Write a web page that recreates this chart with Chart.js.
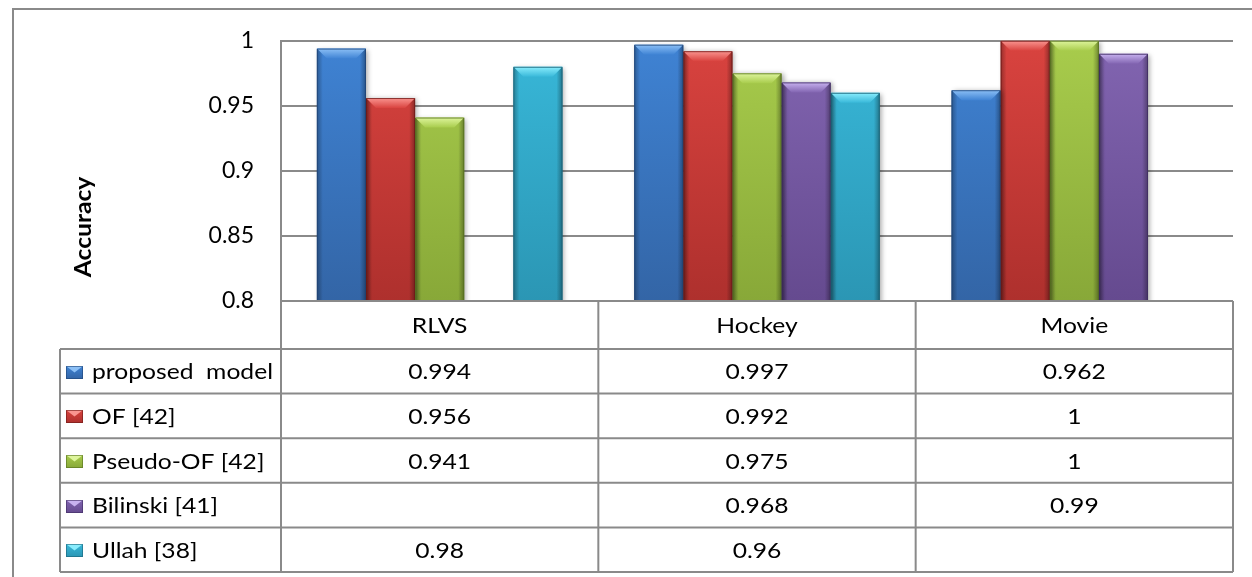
<!DOCTYPE html>
<html>
<head>
<meta charset="utf-8">
<script src="https://cdn.jsdelivr.net/npm/chart.js@4.4.1/dist/chart.umd.min.js"></script>
<style>
  html, body { margin: 0; padding: 0; background: #ffffff; }
  #wrap { width: 1252px; height: 577px; position: relative; }
  canvas { display: block; }
</style>
</head>
<body>
<div id="wrap"><canvas id="chart" width="1252" height="577"></canvas></div>
<script>
// ---- data ----
const categories = ['RLVS', 'Hockey', 'Movie'];
const seriesNames = ['proposed  model', 'OF [42]', 'Pseudo-OF [42]', 'Bilinski [41]', 'Ullah [38]'];
const proposedModel = [0.994, 0.997, 0.962];
const ofValues      = [0.956, 0.992, 1];
const pseudoOf      = [0.941, 0.975, 1];
const bilinski      = [null, 0.968, 0.99];
const ullah         = [0.98, 0.96, null];
const yTickLabels   = ['0.8', '0.85', '0.9', '0.95', '1'];
const yTitle        = 'Accuracy';

const seriesValues = [proposedModel, ofValues, pseudoOf, bilinski, ullah];

// ---- look ----
const FONT = 'Lato, "Open Sans", "Liberation Sans", sans-serif';
const GRID = '#8a8a8a';
const palettes = [
  { top: '#3f83d4', bottom: '#3365a6', bevel: '#8cc0f6', edge: '#1f4476' }, // blue
  { top: '#d9433f', bottom: '#ae302d', bevel: '#fa9590', edge: '#6e1a18' }, // red
  { top: '#a8cc4c', bottom: '#88a838', bevel: '#def59c', edge: '#55701f' }, // green
  { top: '#8265b1', bottom: '#654a8f', bevel: '#c8b2f0', edge: '#3f2d62' }, // purple
  { top: '#38b8d9', bottom: '#2b96b4', bevel: '#8aedfd', edge: '#1a6378' }  // cyan
];

const TABLE = {
  legendLeft: 60,
  headerH: 48,
  rowH: 44.6,
  keyX: 66, keyW: 17, keyH: 13,
  textX: 92,
  fontSize: 22,
  stretch: 1.12
};

function bodyGradient(ctx, area, p) {
  const g = ctx.createLinearGradient(0, area.top, 0, area.bottom);
  g.addColorStop(0, p.top);
  g.addColorStop(1, p.bottom);
  return g;
}

const datasets = seriesNames.map((name, i) => ({
  label: name,
  data: seriesValues[i],
  backgroundColor: (c) => {
    const area = c.chart.chartArea;
    if (!area) return palettes[i].top;
    return bodyGradient(c.chart.ctx, area, palettes[i]);
  },
  borderWidth: 0,
  categoryPercentage: 0.774,
  barPercentage: 1
}));

// soft drop shadow under the bars
const barShadow = {
  id: 'barShadow',
  beforeDatasetsDraw(chart) {
    const ctx = chart.ctx;
    ctx.save();
    ctx.shadowColor = 'rgba(0,0,0,0.35)';
    ctx.shadowBlur = 5;
    ctx.shadowOffsetX = 2;
    ctx.shadowOffsetY = 1;
  },
  afterDatasetsDraw(chart) {
    chart.ctx.restore();
  }
};

// chamfered top edge and shaded sides on every column
const barBevel = {
  id: 'barBevel',
  afterDatasetsDraw(chart) {
    const ctx = chart.ctx;
    const area = chart.chartArea;
    chart.data.datasets.forEach((ds, di) => {
      const meta = chart.getDatasetMeta(di);
      const p = palettes[di];
      meta.data.forEach((bar, j) => {
        if (ds.data[j] === null || ds.data[j] === undefined) return;
        const { x, y, base, width } = bar.getProps(['x', 'y', 'base', 'width'], true);
        const l = x - width / 2, r = x + width / 2;
        const t = Math.max(y, area.top), b = Math.min(base, area.bottom);
        const bv = Math.min(10, (b - t) / 2);
        ctx.save();
        ctx.beginPath();
        ctx.rect(area.left, area.top - 2, area.right - area.left, area.bottom - area.top + 2);
        ctx.clip();
        // top chamfer
        const tg = ctx.createLinearGradient(0, t, 0, t + bv);
        tg.addColorStop(0, p.bevel);
        tg.addColorStop(1, p.top);
        ctx.fillStyle = tg;
        ctx.beginPath();
        ctx.moveTo(l, t); ctx.lineTo(r, t);
        ctx.lineTo(r - bv, t + bv); ctx.lineTo(l + bv, t + bv);
        ctx.closePath(); ctx.fill();
        // side shading
        const lg = ctx.createLinearGradient(l, 0, l + 6, 0);
        lg.addColorStop(0, 'rgba(0,0,0,0.3)');
        lg.addColorStop(1, 'rgba(0,0,0,0)');
        ctx.fillStyle = lg;
        ctx.beginPath();
        ctx.moveTo(l, t); ctx.lineTo(l + 6, t + 6);
        ctx.lineTo(l + 6, b); ctx.lineTo(l, b); ctx.closePath(); ctx.fill();
        const rg = ctx.createLinearGradient(r, 0, r - 6, 0);
        rg.addColorStop(0, 'rgba(0,0,0,0.34)');
        rg.addColorStop(1, 'rgba(0,0,0,0)');
        ctx.fillStyle = rg;
        ctx.beginPath();
        ctx.moveTo(r, t); ctx.lineTo(r - 6, t + 6);
        ctx.lineTo(r - 6, b); ctx.lineTo(r, b); ctx.closePath(); ctx.fill();
        // thin dark outline
        ctx.strokeStyle = p.edge;
        ctx.globalAlpha = 0.8;
        ctx.lineWidth = 1;
        ctx.beginPath();
        ctx.moveTo(l + 0.5, b); ctx.lineTo(l + 0.5, t + 0.5);
        ctx.lineTo(r - 0.5, t + 0.5); ctx.lineTo(r - 0.5, b);
        ctx.stroke();
        ctx.restore();
      });
    });
  }
};

function stretchedText(ctx, text, x, y, align) {
  ctx.save();
  ctx.translate(x, y);
  ctx.scale(TABLE.stretch, 1);
  ctx.textAlign = align;
  ctx.fillText(text, 0, 0);
  ctx.restore();
}

// frame, axis title and the data table under the plot
const dataTable = {
  id: 'dataTable',
  afterDraw(chart) {
    const ctx = chart.ctx;
    const xs = chart.scales.x;
    const area = chart.chartArea;
    const n = categories.length;
    const catW = (xs.right - xs.left) / n;
    const colEdges = [TABLE.legendLeft];
    for (let i = 0; i < n; i++) colEdges.push(xs.getPixelForValue(i) - catW / 2);
    colEdges.push(xs.getPixelForValue(n - 1) + catW / 2);

    const headTop = area.bottom;
    const rowTops = [headTop, headTop + TABLE.headerH];
    for (let i = 0; i < seriesNames.length; i++) rowTops.push(rowTops[rowTops.length - 1] + TABLE.rowH);
    const tableBottom = rowTops[rowTops.length - 1];
    const plotLeft = colEdges[1];
    const tableRight = colEdges[colEdges.length - 1];

    ctx.save();
    // outer frame
    ctx.strokeStyle = GRID;
    ctx.lineWidth = 2;
    ctx.beginPath();
    ctx.moveTo(13, 577); ctx.lineTo(13, 9); ctx.lineTo(1252, 9);
    ctx.stroke();

    // table grid
    ctx.beginPath();
    ctx.moveTo(plotLeft, rowTops[0]); ctx.lineTo(tableRight, rowTops[0]);
    for (let r = 1; r < rowTops.length; r++) {
      ctx.moveTo(TABLE.legendLeft, rowTops[r]); ctx.lineTo(tableRight, rowTops[r]);
    }
    ctx.moveTo(TABLE.legendLeft, rowTops[1]); ctx.lineTo(TABLE.legendLeft, tableBottom);
    for (let c = 1; c < colEdges.length; c++) {
      ctx.moveTo(colEdges[c], rowTops[0]); ctx.lineTo(colEdges[c], tableBottom);
    }
    ctx.stroke();

    // text
    ctx.fillStyle = '#000';
    ctx.textBaseline = 'middle';
    ctx.font = TABLE.fontSize + 'px ' + FONT;
    categories.forEach((cat, i) => {
      stretchedText(ctx, cat, xs.getPixelForValue(i), (rowTops[0] + rowTops[1]) / 2 + 1, 'center');
    });
    seriesNames.forEach((name, s) => {
      const cy = (rowTops[s + 1] + rowTops[s + 2]) / 2 + 1;
      // legend key
      const p = palettes[s];
      const kx = TABLE.keyX, ky = Math.round(cy - TABLE.keyH / 2), kw = TABLE.keyW, kh = TABLE.keyH;
      const kg = ctx.createLinearGradient(0, ky, 0, ky + kh);
      kg.addColorStop(0, p.top); kg.addColorStop(1, p.bottom);
      ctx.fillStyle = kg;
      ctx.fillRect(kx, ky, kw, kh);
      ctx.fillStyle = p.bevel;
      ctx.beginPath();
      ctx.moveTo(kx, ky); ctx.lineTo(kx + kw, ky); ctx.lineTo(kx + kw / 2, ky + kh / 2);
      ctx.closePath(); ctx.fill();
      ctx.strokeStyle = p.edge; ctx.lineWidth = 1; ctx.globalAlpha = 0.6;
      ctx.strokeRect(kx + 0.5, ky + 0.5, kw - 1, kh - 1);
      ctx.globalAlpha = 1;

      ctx.fillStyle = '#000';
      stretchedText(ctx, name, TABLE.textX, cy, 'left');
      seriesValues[s].forEach((v, i) => {
        if (v === null || v === undefined) return;
        stretchedText(ctx, String(v), xs.getPixelForValue(i), cy, 'center');
      });
    });

    // axis title
    ctx.save();
    ctx.translate(84, 227);
    ctx.rotate(-Math.PI / 2);
    ctx.scale(1.12, 1);
    ctx.font = 'bold 22px ' + FONT;
    ctx.textAlign = 'center';
    ctx.fillText(yTitle, 0, 0);
    ctx.restore();

    ctx.restore();
  }
};

new Chart(document.getElementById('chart'), {
  type: 'bar',
  data: { labels: categories, datasets },
  options: {
    responsive: false,
    animation: false,
    devicePixelRatio: 1,
    layout: { padding: { left: 0, top: 39, right: 19, bottom: 276 } },
    plugins: {
      legend: { display: false },
      tooltip: { enabled: false },
      title: { display: false }
    },
    scales: {
      x: {
        display: false,
        offset: true
      },
      y: {
        min: 0.8,
        max: 1,
        ticks: {
          stepSize: 0.05,
          padding: 27,
          color: '#000',
          font: { family: FONT, size: 23 },
          callback: (v, i) => yTickLabels[i]
        },
        grid: { color: GRID, lineWidth: 2, drawTicks: false },
        border: { display: true, color: GRID, width: 2 },
        afterFit: (scale) => { scale.width = 281; }
      }
    }
  },
  plugins: [barShadow, barBevel, dataTable]
});
</script>
</body>
</html>
